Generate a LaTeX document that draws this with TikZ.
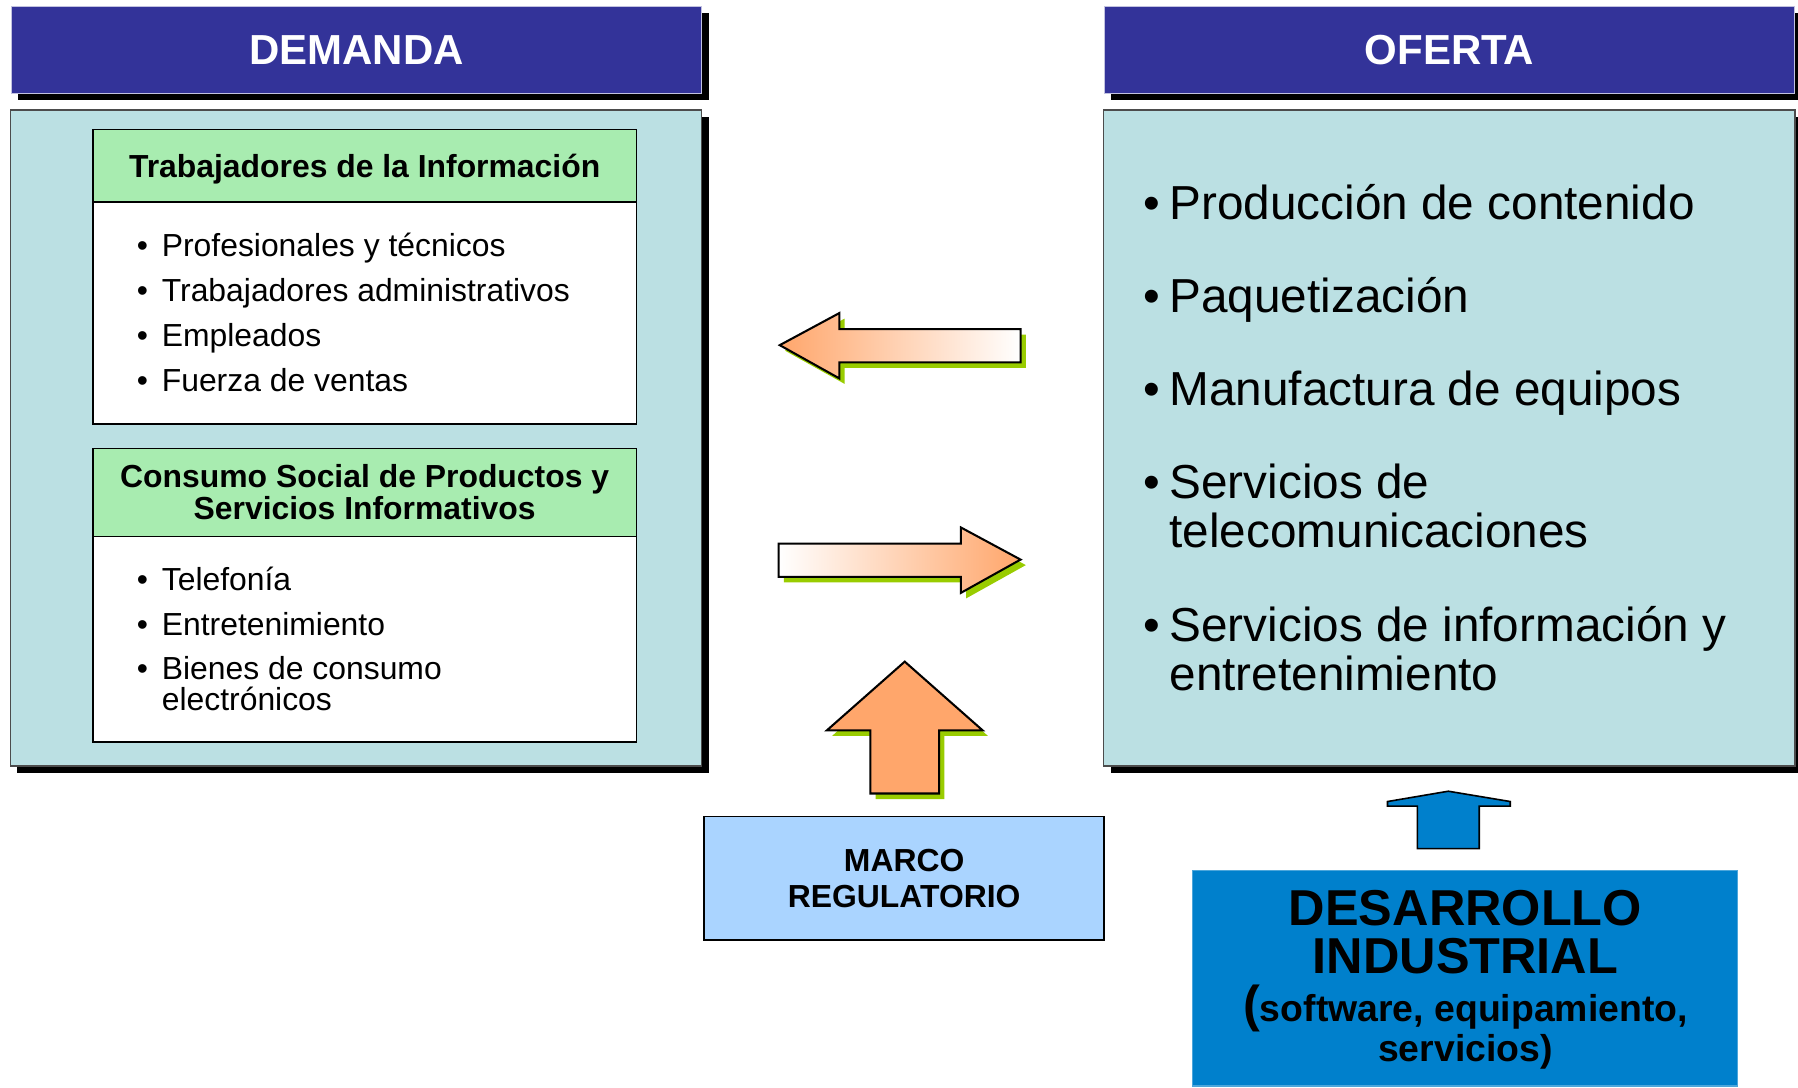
\documentclass[tikz,border=0pt]{standalone}
\usepackage{fontspec}
\setmainfont{Liberation Sans}
\usetikzlibrary{shadows}
\definecolor{navy}{RGB}{51,51,153}
\definecolor{panelteal}{RGB}{187,224,227}
\definecolor{hdrgreen}{RGB}{168,236,176}
\definecolor{marcoblue}{RGB}{170,212,255}
\definecolor{desablue}{RGB}{0,128,204}
\definecolor{arrorange}{RGB}{255,166,107}
\definecolor{shgreen}{RGB}{153,204,0}

\begin{document}
\begin{tikzpicture}[x=0.5pt,y=-0.5pt,
    blackshadow/.style={general shadow={fill=black,shadow xshift=3pt,shadow yshift=-3pt}},
    greenshadow/.style={general shadow={fill=shgreen,shadow xshift=2.3pt,shadow yshift=-2.4pt}},
    hdr/.style={blackshadow,fill=navy,draw=navy!30,line width=0.5pt,text=white,inner sep=0pt,
        minimum width=301pt,minimum height=38pt,font=\fontsize{18.3}{20}\selectfont\bfseries},
    panel/.style={blackshadow,fill=panelteal,draw=black!70,line width=0.6pt,inner sep=0pt,
        minimum width=301.5pt,minimum height=286pt},
    boxhead/.style={fill=hdrgreen,draw=black,line width=0.7pt,inner sep=0pt,minimum width=237pt,
        align=center,font=\fontsize{13.9}{14}\selectfont\bfseries},
    boxbody/.style={fill=white,draw=black,line width=0.7pt,inner sep=0pt,minimum width=237pt},
    list/.style={inner sep=0pt,anchor=base west},
    arr/.style={draw=black,line width=0.9pt,line join=miter}]
  \useasboundingbox (0,0) rectangle (1568,948);

  % encabezados
  \node[hdr] (demanda) at (311,43.5) {DEMANDA};
  \node[hdr] (oferta) at (1264,43.5) {OFERTA};

  % paneles
  \node[panel] (pdem) at (310.5,382) {};
  \node[panel] (pofe) at (1264,382) {};

  % demanda
  \node[boxbody,minimum height=97pt] (trabb) at (318,273) {};
  \node[boxhead,minimum height=31.5pt,text height=10pt,text depth=0pt] (trabh) at (318,144.5)
    {Trabajadores de la Informaci\'on};
  \node[list,font=\fontsize{13.9}{19.5}\selectfont] (trabl) at (119,224)
    {\begin{tabular}[t]{@{}l@{\hspace{6pt}}l@{}}
      • & Profesionales y técnicos\\
      • & Trabajadores administrativos\\
      • & Empleados\\
      • & Fuerza de ventas
    \end{tabular}};

  \node[boxbody,minimum height=89.5pt] (consb) at (318,557.5) {};
  \node[boxhead,minimum height=38.5pt] (consh) at (318,429.5)
    {Consumo Social de Productos y\\Servicios Informativos};
  \node[list,font=\fontsize{13.9}{19.5}\selectfont] (consl) at (119,515)
    {\begin{tabular}[t]{@{}l@{\hspace{6pt}}l@{}}
      • & Telefonía\\
      • & Entretenimiento\\
      • & Bienes de consumo\\[-6pt]
        & electrónicos
    \end{tabular}};

  % oferta
  \node[list,font=\fontsize{20.8}{21.5}\selectfont] (ofel) at (997,191)
    {\begin{tabular}[t]{@{}l@{\hspace{4pt}}l@{}}
      • & Producción de contenido\\[19pt]
      • & Paquetización\\[19pt]
      • & Manufactura de equipos\\[19pt]
      • & Servicios de\\
        & telecomunicaciones\\[19pt]
      • & Servicios de información y\\
        & entretenimiento
    \end{tabular}};

  % flechas
  \path[arr,greenshadow,left color=arrorange,right color=white]
    (680,301) -- (732,273) -- (732,287) -- (890,287) -- (890,316) -- (732,316) -- (732,330) -- cycle;
  \path[arr,greenshadow,left color=white,right color=arrorange]
    (679,474) -- (838,474) -- (838,460) -- (890,488) -- (838,517) -- (838,503) -- (679,503) -- cycle;
  \path[arr,greenshadow,fill=arrorange]
    (789,577) -- (857,637) -- (819,637) -- (819,692) -- (759,692) -- (759,637) -- (721,637) -- cycle;
  \path[arr,fill=desablue,line width=0.7pt]
    (1263,690) -- (1317,699) -- (1317,703) -- (1290,703) -- (1290,740) -- (1236,740) -- (1236,703)
    -- (1210,703) -- (1210,699) -- cycle;

  % marco y desarrollo
  \node[fill=marcoblue,draw=black,line width=0.7pt,minimum width=174.5pt,minimum height=54pt,
    inner sep=0pt,align=center,font=\fontsize{13.9}{16}\selectfont\bfseries] (marco) at (788.5,766)
    {MARCO\\REGULATORIO};
  \node[fill=desablue,draw=desablue!70,line width=0.5pt,minimum width=237.5pt,minimum height=94pt,
    inner sep=0pt] (desa) at (1277.5,853) {};
  \node[align=center,font=\fontsize{22}{21}\selectfont\bfseries] (desat) at (1278,813)
    {DESARROLLO\\INDUSTRIAL};
  \node[align=center,font=\fontsize{16.3}{16}\selectfont\bfseries] (desas) at (1278,896)
    {{\fontsize{22}{16}\selectfont(}software, equipamiento,\\servicios)};
\end{tikzpicture}
\end{document}
